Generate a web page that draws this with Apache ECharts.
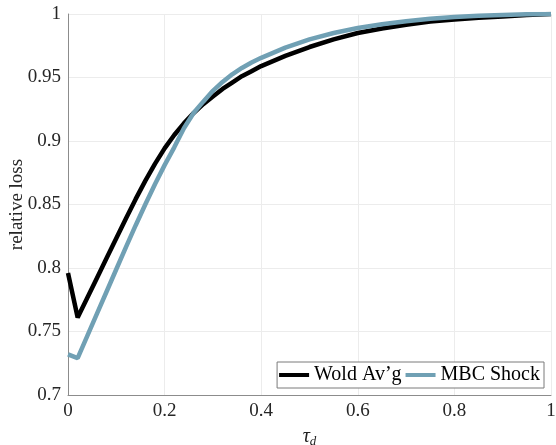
<!DOCTYPE html>
<html>
<head>
<meta charset="utf-8">
<script src="https://cdn.jsdelivr.net/npm/echarts@6/dist/echarts.min.js"></script>
<style>
  html, body { margin: 0; padding: 0; background: #fff; }
  #chart { width: 556px; height: 445px; }
</style>
</head>
<body>
<div id="chart"></div>
<script>
// decision lag tau_d
const tau = [0, 0.02, 0.04, 0.06, 0.08, 0.10, 0.12, 0.14, 0.16, 0.18, 0.20,
             0.22, 0.24, 0.26, 0.28, 0.30, 0.32, 0.34, 0.36, 0.38, 0.40,
             0.45, 0.50, 0.55, 0.60, 0.65, 0.70, 0.75, 0.80, 0.85, 0.90, 0.95, 1.00];

// relative loss, Wold average
const woldAvg = [0.796, 0.761, 0.7766, 0.7922, 0.8078, 0.8234, 0.839, 0.8542, 0.8686, 0.882, 0.8942,
                 0.9047, 0.9139, 0.922, 0.929, 0.935, 0.941, 0.946, 0.951, 0.955, 0.959,
                 0.967, 0.974, 0.980, 0.985, 0.9886, 0.9915, 0.994, 0.9956, 0.997, 0.998, 0.9992, 1.0];

// relative loss, MBC shock
const mbcShock = [0.732, 0.729, 0.7465, 0.764, 0.7815, 0.799, 0.8165, 0.8335, 0.850, 0.866, 0.881,
                  0.895, 0.910, 0.922, 0.931, 0.9395, 0.9465, 0.9525, 0.9575, 0.9618, 0.9655,
                  0.9735, 0.980, 0.985, 0.989, 0.992, 0.9943, 0.9962, 0.9976, 0.9986, 0.9993, 0.9998, 1.0];

const xTicks = [0, 0.2, 0.4, 0.6, 0.8, 1];
const yTicks = [0.7, 0.75, 0.8, 0.85, 0.9, 0.95, 1];

const seriesNames = ['Wold Av\u2019g', 'MBC Shock'];
const seriesColors = ['#000000', '#70a0b4'];

const FONT = '"Liberation Serif", "DejaVu Serif", serif';
const AXIS_GRAY = '#8c8c8c';
const GRID_GRAY = '#ececec';

const chart = echarts.init(document.getElementById('chart'), null, { renderer: 'canvas' });

const pairs = (ys) => tau.map((t, i) => [t, ys[i]]);

chart.setOption({
  animation: false,
  backgroundColor: '#ffffff',
  grid: { left: 68, right: 5, top: 14, bottom: 50, containLabel: false, outerBoundsMode: 'none' },
  xAxis: {
    type: 'value',
    min: xTicks[0],
    max: xTicks[xTicks.length - 1],
    interval: xTicks[1] - xTicks[0],
    name: '{t|\u03c4}{s|d}',
    nameLocation: 'middle',
    nameGap: 30,
    nameMoveOverlap: false,
    nameTextStyle: {
      rich: {
        t: { fontFamily: FONT, fontStyle: 'italic', fontSize: 20, color: '#222' },
        s: { fontFamily: FONT, fontStyle: 'italic', fontSize: 13, color: '#222', padding: [10, 0, 0, 0] }
      }
    },
    axisLine: { show: true, onZero: false, lineStyle: { color: AXIS_GRAY, width: 1 } },
    axisTick: { show: false },
    axisLabel: { fontFamily: FONT, fontSize: 19, color: '#262626', margin: 7 },
    splitLine: { show: true, lineStyle: { color: GRID_GRAY, width: 1 } }
  },
  yAxis: {
    type: 'value',
    min: yTicks[0],
    max: yTicks[yTicks.length - 1],
    interval: 0.05,
    name: 'relative loss',
    nameLocation: 'middle',
    nameGap: 41,
    nameRotate: 90,
    nameMoveOverlap: false,
    nameTextStyle: { fontFamily: FONT, fontSize: 19, color: '#262626' },
    axisLine: { show: true, onZero: false, lineStyle: { color: AXIS_GRAY, width: 1 } },
    axisTick: { show: false },
    axisLabel: { fontFamily: FONT, fontSize: 19, color: '#262626', margin: 7 },
    splitLine: { show: true, lineStyle: { color: GRID_GRAY, width: 1 } }
  },
  legend: {
    right: 12,
    bottom: 57,
    orient: 'horizontal',
    backgroundColor: '#ffffff',
    borderColor: '#7a7a7a',
    borderWidth: 1,
    borderRadius: 0,
    padding: [3, 4, 3, 2],
    itemGap: 4,
    itemWidth: 30,
    itemHeight: 4,
    icon: 'rect',
    textStyle: { fontFamily: FONT, fontSize: 20, color: '#000' },
    data: seriesNames
  },
  series: [
    {
      name: seriesNames[0],
      type: 'line',
      data: pairs(woldAvg),
      showSymbol: false,
      symbol: 'none',
      smooth: false,
      lineStyle: { color: seriesColors[0], width: 4.5 },
      itemStyle: { color: seriesColors[0] },
      z: 2
    },
    {
      name: seriesNames[1],
      type: 'line',
      data: pairs(mbcShock),
      showSymbol: false,
      symbol: 'none',
      smooth: false,
      lineStyle: { color: seriesColors[1], width: 4.5 },
      itemStyle: { color: seriesColors[1] },
      z: 3
    }
  ]
});
</script>
</body>
</html>
